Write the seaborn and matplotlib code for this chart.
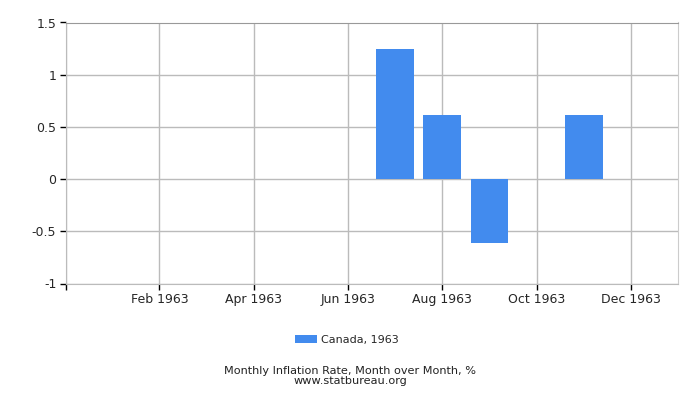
import matplotlib
matplotlib.use("Agg")
import matplotlib.pyplot as plt
import seaborn as sns
import pandas as pd

# data
months = ["Jan 1963", "Feb 1963", "Mar 1963", "Apr 1963", "May 1963", "Jun 1963",
          "Jul 1963", "Aug 1963", "Sep 1963", "Oct 1963", "Nov 1963", "Dec 1963"]
rates = [0, 0, 0, 0, 0, 0, 1.25, 0.61, -0.61, 0, 0.61, 0]
series_label = "Canada, 1963"
yticks = [-1, -0.5, 0, 0.5, 1, 1.5]
ytick_labels = ["-1", "-0.5", "0", "0.5", "1", "1.5"]

df = pd.DataFrame({"month": months, "rate": rates})

sns.set_style("white")
plt.rcParams["font.family"] = ["DejaVu Sans"]

fig = plt.figure(figsize=(7, 4), dpi=100)
ax = fig.add_axes([66 / 700, 1 - 283.5 / 400, 612 / 700, 261 / 400])

bar_color = "#428BEE"
sns.barplot(data=df, x="month", y="rate", order=months, color=bar_color,
            saturation=1, width=0.8, linewidth=0, ax=ax, label=series_label)

ax.set_xlim(-0.98, 12)
ax.set_ylim(-1, 1.5)

# x ticks every other month starting Feb, plus unlabeled corner tick
xt = [-0.98] + [i for i in range(1, 12, 2)]
ax.set_xticks(xt)
ax.set_xticklabels([""] + [months[i] for i in range(1, 12, 2)], fontsize=9)
ax.set_yticks(yticks)
ax.set_yticklabels(ytick_labels, fontsize=9)

ax.grid(True, color="#BBBBBB", linewidth=1)
ax.set_axisbelow(True)
ax.tick_params(axis="both", length=4, width=1, color="#000000", direction="out",
               bottom=True, left=True, pad=3)
ax.set_xlabel("")
ax.set_ylabel("")

for side in ["left", "bottom"]:
    ax.spines[side].set_color("#BBBBBB")
ax.spines["top"].set_color("#999999")
ax.spines["right"].set_color("#CCCCCC")

ax.legend(loc="center", bbox_to_anchor=(347 / 700, 1 - 340 / 400),
          bbox_transform=fig.transFigure, frameon=False, fontsize=8,
          handlelength=2.0, handleheight=0.8, handletextpad=0.4)

fig.text(0.5, 1 - 371 / 400, "Monthly Inflation Rate, Month over Month, %",
         ha="center", va="center", fontsize=8.1, color="#222222")
fig.text(0.5, 1 - 381.5 / 400, "www.statbureau.org",
         ha="center", va="center", fontsize=8.1, color="#222222")

fig.savefig("out.png", dpi=100)
